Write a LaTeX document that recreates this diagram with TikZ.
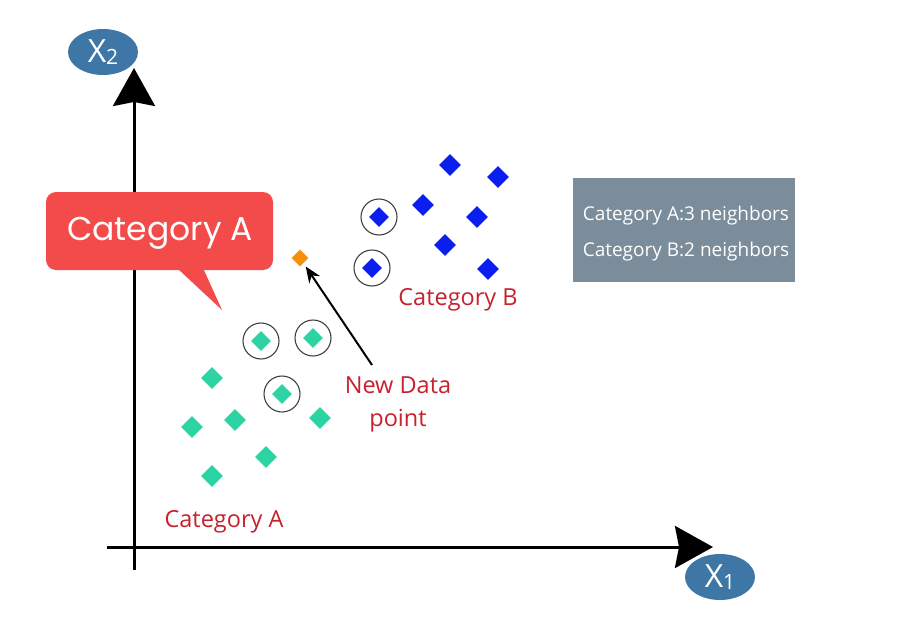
\documentclass[tikz,border=0pt]{standalone}
\usepackage{fontspec}
\setmainfont{Open Sans}
\newfontfamily\calloutfont{Poppins}
\usetikzlibrary{shapes.geometric,arrows.meta}
\definecolor{axblue}{HTML}{3E77A6}
\definecolor{callred}{HTML}{F34A4A}
\definecolor{boxgray}{HTML}{7B8C9B}
\definecolor{ptgreen}{HTML}{2CD3A3}
\definecolor{ptblue}{HTML}{0A1EF0}
\definecolor{txtred}{HTML}{C8212E}
\definecolor{ptorange}{HTML}{F4900C}
\tikzset{
  axisline/.style={line width=3pt,-{Stealth[length=38pt,width=42pt,inset=4pt]}},
  axlabel/.style={ellipse,fill=axblue,text=white,minimum width=70pt,minimum height=46pt,inner sep=0pt,font=\fontsize{32}{34}\selectfont},
  gpt/.style={diamond,fill=ptgreen,minimum size=22pt,inner sep=0pt},
  bpt/.style={diamond,fill=ptblue,minimum size=22pt,inner sep=0pt},
  ring/.style={circle,draw=black!75,line width=1.1pt,minimum size=36pt,inner sep=0pt},
  redlabel/.style={text=txtred,font=\fontsize{23.5}{33}\selectfont},
  infotext/.style={text=white,font=\fontsize{19}{22}\selectfont},
}
\begin{document}
\begin{tikzpicture}[x=1pt,y=-1pt]
\useasboundingbox (0,0) rectangle (899,634);
% axes
\coordinate (yb) at (134,570);
\coordinate (yt) at (134,68);
\coordinate (xl) at (107,547);
\coordinate (xr) at (713,547);
\draw[axisline] (yb) -- (yt);
\draw[axisline] (xl) -- (xr);
\node[axlabel] (x2) at (103,52) {X\raisebox{-0.15ex}{\fontsize{21}{22}\selectfont 2}};
\node[axlabel] (x1) at (720,577) {X\raisebox{-0.15ex}{\fontsize{21}{22}\selectfont 1}};
% callout
\fill[callred,rounded corners=10pt] (46,192) rectangle (273,270);
\fill[callred] (177,268) -- (203,268) -- (222,310) -- cycle;
\node[text=white,font=\calloutfont\fontsize{33}{36}\selectfont] (callout) at (160,233) {Category A};
% info box
\node[fill=boxgray,minimum width=222pt,minimum height=104pt,inner sep=0pt] (info) at (684,230) {};
\node[infotext] (infoA) at (686,216) {Category A:3 neighbors};
\node[infotext] (infoB) at (686,252) {Category B:2 neighbors};
% category B points
\node[bpt] (b1) at (450,165) {};
\node[bpt] (b2) at (498,177) {};
\node[bpt] (b3) at (423,205) {};
\node[bpt] (b4) at (477,217) {};
\node[bpt] (b5) at (445,245) {};
\node[bpt] (b6) at (488,269) {};
\node[bpt,minimum size=20pt] (b7) at (379,217) {};
\node[bpt,minimum size=20pt] (b8) at (372,268) {};
\node[ring] (rb7) at (379,217) {};
\node[ring] (rb8) at (372,268) {};
% category A points
\node[gpt] (a1) at (212,378) {};
\node[gpt] (a2) at (192,427) {};
\node[gpt] (a3) at (235,420) {};
\node[gpt] (a4) at (320,418) {};
\node[gpt] (a5) at (266,457) {};
\node[gpt] (a6) at (212,476) {};
\node[gpt,minimum size=20pt] (a7) at (261,341) {};
\node[gpt,minimum size=20pt] (a8) at (313,338) {};
\node[gpt,minimum size=20pt] (a9) at (282,394) {};
\node[ring] (ra7) at (261,341) {};
\node[ring] (ra8) at (313,338) {};
\node[ring] (ra9) at (282,394) {};
% new point
\node[diamond,fill=ptorange,minimum size=17pt,inner sep=0pt] (new) at (300,258) {};
% labels
\node[redlabel] (labB) at (458,300) {Category B};
\node[redlabel] (labA) at (224,522) {Category A};
\node[redlabel,align=center] (ndp) at (398,404) {New Data\\point};
\coordinate (arrstart) at (372,365);
\draw[line width=2pt,-{Stealth[length=16pt,width=13pt]},shorten >=4pt] (arrstart) -- (new);
\end{tikzpicture}
\end{document}
